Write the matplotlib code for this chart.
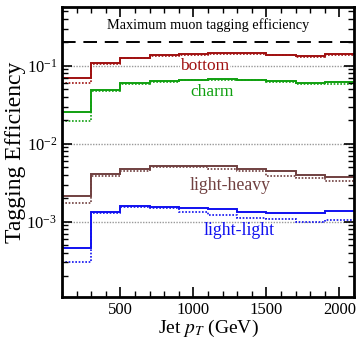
import matplotlib
matplotlib.use("Agg")
import matplotlib.pyplot as plt
import numpy as np

plt.rcParams['font.family'] = ['Liberation Serif', 'DejaVu Serif']
plt.rcParams['mathtext.fontset'] = 'stix'

# bin edges in jet pT (GeV)
edges = [100, 300, 500, 700, 900, 1100, 1300, 1500, 1700, 1900, 2100]

bottom_solid = [0.0704, 0.108, 0.128, 0.138, 0.143, 0.145, 0.147, 0.140, 0.135, 0.143]
bottom_dot = [0.0597, 0.105, 0.125, 0.135, 0.140, 0.142, 0.144, 0.137, 0.131, 0.137]
charm_solid = [0.0258, 0.049, 0.0607, 0.0644, 0.0664, 0.067, 0.0664, 0.0644, 0.060, 0.0626]
charm_dot = [0.0198, 0.047, 0.059, 0.063, 0.065, 0.066, 0.065, 0.063, 0.059, 0.0585]
lh_solid = [0.00214, 0.0041, 0.00475, 0.00525, 0.00525, 0.0052, 0.0048, 0.0045, 0.0040, 0.0037]
lh_dot = [0.00176, 0.0039, 0.0045, 0.0050, 0.0050, 0.0048, 0.0045, 0.0039, 0.0036, 0.0033]
ll_solid = [0.00046, 0.00132, 0.0016, 0.00156, 0.00152, 0.00146, 0.00134, 0.00131, 0.00130, 0.00138]
ll_dot = [0.00030, 0.0013, 0.00156, 0.00151, 0.00132, 0.00122, 0.00111, 0.00108, 0.00098, 0.00104]

max_eff = 0.2

c_b = '#a01010'
c_c = '#10a010'
c_lh = '#704040'
c_ll = '#1010f0'

fig = plt.figure(figsize=(3.58, 3.42), dpi=100)
ax = fig.add_axes([62/358, 45/342, 292/358, 290/342])

for s, d, c in [(bottom_solid, bottom_dot, c_b), (charm_solid, charm_dot, c_c),
                (lh_solid, lh_dot, c_lh), (ll_solid, ll_dot, c_ll)]:
    ax.stairs(s, edges, color=c, lw=1.4, baseline=None)
    ax.stairs(d, edges, color=c, lw=1.2, ls=(0, (1, 1)), baseline=None)

ax.axhline(max_eff, color='black', lw=1.4, ls=(0, (7, 4)))
for v in [1e-1, 1e-2, 1e-3]:
    ax.axhline(v, color='#999999', lw=1.0, ls=(0, (1, 1)), zorder=0)

ax.set_yscale('log')
ax.set_xlim(100, 2100)
ax.set_ylim(1.08e-4, 0.57)

ax.text(1100, 0.33, 'Maximum muon tagging efficiency', ha='center', va='center', fontsize=10.3)
ax.text(1080, 0.1, 'bottom', color=c_b, ha='center', va='center', fontsize=12.5,
        bbox=dict(facecolor='white', edgecolor='none', pad=0.5))
ax.text(1125, 0.046, 'charm', color=c_c, ha='center', va='center', fontsize=12.5)
ax.text(1250, 0.0029, 'light-heavy', color=c_lh, ha='center', va='center', fontsize=12.8)
ax.text(1315, 0.00078, 'light-light', color=c_ll, ha='center', va='center', fontsize=12.8)

ax.set_xticks([500, 1000, 1500, 2000])
ax.xaxis.set_minor_locator(matplotlib.ticker.MultipleLocator(100))
ax.tick_params(which='both', direction='in', top=True, right=True, labelsize=12)
ax.tick_params(which='major', length=7, width=1.2)
ax.tick_params(which='minor', length=4, width=1.0)
for sp in ax.spines.values():
    sp.set_linewidth(2)

ax.set_xlabel(r'Jet $p_T$ (GeV)', fontsize=14, labelpad=0)
ax.set_ylabel('Tagging Efficiency', fontsize=17, labelpad=0)

fig.savefig('out.png', dpi=100)
